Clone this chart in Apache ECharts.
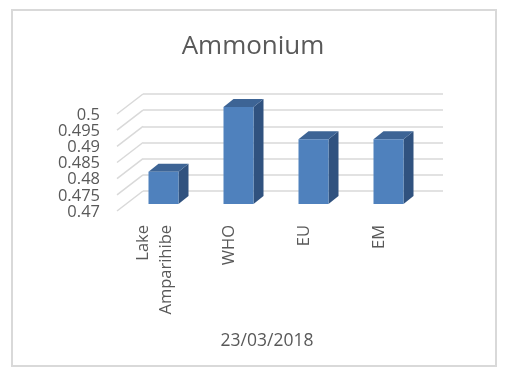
<!DOCTYPE html>
<html>
<head>
<meta charset="utf-8">
<script src="https://cdn.jsdelivr.net/npm/echarts@6/dist/echarts.min.js"></script>
<style>html,body{margin:0;padding:0;background:#fff}#c{width:506px;height:377px}</style>
</head>
<body>
<div id="c"></div>
<script>
const categories = ['Lake\nAmparihibe', 'WHO', 'EU', 'EM'];
const values = [0.48, 0.5, 0.49, 0.49];
const yTicks = [0.47, 0.475, 0.48, 0.485, 0.49, 0.495, 0.5];
const titleText = 'Ammonium';
const xName = '23/03/2018';

const FONT = 'Open Sans';
const yMin = 0.47, yMax = 0.5, yStep = 0.005;
const DEPTH_X = 26, DEPTH_Y = 20;   // floor depth (back wall -> front)
const BAR_DX = 10, BAR_DY = 8;      // bar depth
const BAR_W = 30;

const chart = echarts.init(document.getElementById('c'), null, {renderer: 'canvas'});

const yBase = (idx) => ({
  type: 'value', gridIndex: idx, min: yMin, max: yMax, interval: yStep,
  axisLine: {show: false}, axisTick: {show: false},
  splitLine: {show: idx === 0, lineStyle: {color: '#d9d9d9', width: 1.5}},
  axisLabel: {show: false}
});
const xBase = (idx, showLabel) => ({
  type: 'category', gridIndex: idx, data: categories,
  axisLine: {show: false}, axisTick: {show: false}, splitLine: {show: false},
  axisLabel: {show: showLabel, rotate: 90, color: '#595959', fontFamily: FONT, fontSize: 16.5,
    lineHeight: 23, margin: 14, interval: 0}
});

const option = {
  animation: false,
  backgroundColor: '#ffffff',
  title: {text: titleText, left: 'center', top: 29,
    textStyle: {color: '#595959', fontFamily: FONT, fontSize: 26, fontWeight: 'normal'}},
  graphic: [{type: 'rect', shape: {x: 12, y: 10, width: 484, height: 356},
    style: {fill: 'none', stroke: '#d9d9d9', lineWidth: 2}, silent: true}],
  grid: [
    {left: 143, top: 94, width: 300, height: 97},
    {left: 117, top: 114, width: 300, height: 97},
    {left: 126, top: 107, width: 300, height: 97}
  ],
  xAxis: [
    xBase(0, false),
    Object.assign(xBase(1, true), {name: xName, nameLocation: 'middle', nameGap: 121,
      nameTextStyle: {color: '#595959', fontFamily: FONT, fontSize: 17.5}}),
    xBase(2, false)
  ],
  yAxis: [yBase(0), yBase(1), yBase(2)],
  series: [
    {
      type: 'custom', xAxisIndex: 0, yAxisIndex: 0, silent: true,
      data: yTicks.map(v => [0, v]),
      renderItem: (params, api) => {
        const cs = params.coordSys;
        const p = api.coord([0, api.value(1)]);
        return {type: 'line', shape: {x1: cs.x, y1: p[1], x2: cs.x - DEPTH_X, y2: p[1] + DEPTH_Y},
          style: {stroke: '#d9d9d9', lineWidth: 1.5}};
      }
    },
    {
      type: 'custom', xAxisIndex: 1, yAxisIndex: 1, silent: true,
      data: yTicks.map(v => [0, v]),
      renderItem: (params, api) => {
        const cs = params.coordSys;
        const v = api.value(1);
        const p = api.coord([0, v]);
        return {type: 'text', x: cs.x - 17, y: p[1] + 1,
          style: {text: String(parseFloat(v.toFixed(3))), fill: '#595959', font: '16.5px "Open Sans"',
            align: 'right', verticalAlign: 'middle'}};
      }
    },
    {
      type: 'custom', xAxisIndex: 2, yAxisIndex: 2, silent: true,
      data: values.map((v, i) => [i, v]),
      renderItem: (params, api) => {
        const top = api.coord([api.value(0), api.value(1)]);
        const base = api.coord([api.value(0), yMin]);
        const l = top[0] - BAR_W / 2, r = top[0] + BAR_W / 2, t = top[1], b = base[1];
        return {type: 'group', children: [
          {type: 'polygon', shape: {points: [[r, t], [r + BAR_DX, t - BAR_DY], [r + BAR_DX, b - BAR_DY], [r, b]]},
            style: {fill: '#30527f'}},
          {type: 'polygon', shape: {points: [[l, t], [r, t], [r + BAR_DX, t - BAR_DY], [l + BAR_DX, t - BAR_DY]]},
            style: {fill: '#3d6495'}},
          {type: 'rect', shape: {x: l, y: t, width: BAR_W, height: b - t},
            style: {fill: '#4f81bd'}}
        ]};
      }
    }
  ]
};
chart.setOption(option);
</script>
</body>
</html>
